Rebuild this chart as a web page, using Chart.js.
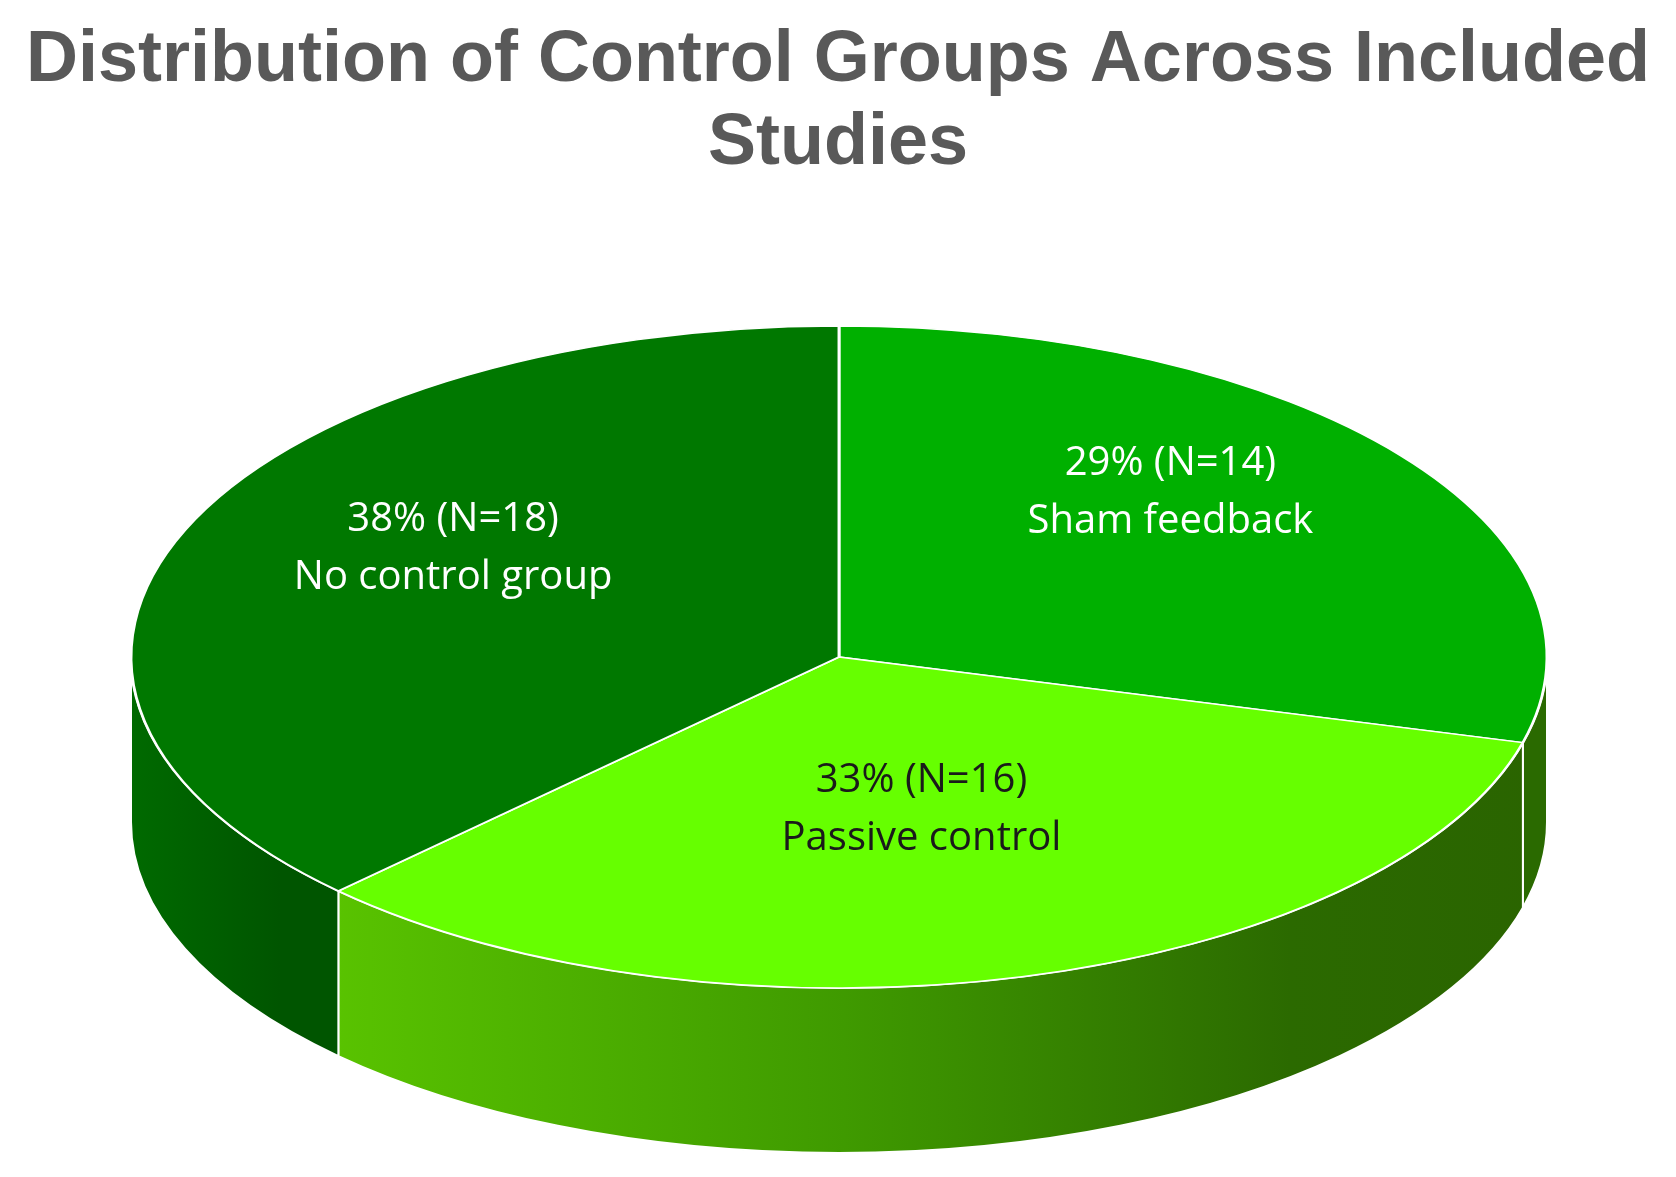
<!DOCTYPE html>
<html><head><meta charset="utf-8">
<script src="https://cdn.jsdelivr.net/npm/chart.js@4"></script>
<style>html,body{margin:0;padding:0;background:#fff}#wrap{width:1676px;height:1177px}</style>
</head><body><div id="wrap"><canvas id="c"></canvas></div>
<script>
const categories = ["Sham feedback", "Passive control", "No control group"];
const counts = [14, 16, 18];
const percents = ["29%", "33%", "38%"];
const topColors = ["#00b000", "#66ff00", "#007800"];
const textColors = ["#ffffff", "#1a1a1a", "#ffffff"];

const CX = 839, CY = 657, RX = 708, RY = 331, DEPTH = 165, LCY = 595;
const LFX = [0.59, 0.45, 0.59], LFY = [0.51, 0.67, 0.37];

function sideFill(ctx, i) {
  if (i === 1) {
    const g = ctx.createLinearGradient(270, 0, 1546, 0);
    g.addColorStop(0, "#5cc800"); g.addColorStop(0.45, "#3f9a00"); g.addColorStop(0.8, "#2b6a00"); g.addColorStop(1, "#2a6400");
    return g;
  }
  if (i === 2) {
    const g = ctx.createLinearGradient(130, 0, 280, 0);
    g.addColorStop(0, "#006a00"); g.addColorStop(1, "#005500");
    return g;
  }
  return "#2a6a00";
}

const pie3d = {
  id: 'pie3d',
  beforeDatasetsDraw(chart) {
    const ctx = chart.ctx;
    const meta = chart.getDatasetMeta(0);
    ctx.save();
    meta.data.forEach((arc, i) => {
      let s = Math.max(arc.startAngle, 0), e = Math.min(arc.endAngle, Math.PI);
      if (e <= s) return;
      ctx.beginPath();
      ctx.ellipse(CX, CY, RX, RY, 0, s, e);
      ctx.lineTo(CX + RX * Math.cos(e), CY + DEPTH + RY * Math.sin(e));
      ctx.ellipse(CX, CY + DEPTH, RX, RY, 0, e, s, true);
      ctx.closePath();
      ctx.fillStyle = sideFill(ctx, i);
      ctx.fill();
      ctx.strokeStyle = "#ffffff"; ctx.lineWidth = 2; ctx.stroke();
    });
    ctx.restore();
    const a0 = meta.data[0];
    const r0 = a0.outerRadius;
    ctx.save();
    ctx.translate(CX, CY);
    ctx.scale(RX / r0, RY / r0);
    ctx.translate(-a0.x, -a0.y);
  },
  afterDatasetsDraw(chart) {
    const ctx = chart.ctx;
    ctx.restore();
    const meta = chart.getDatasetMeta(0);
    ctx.save();
    ctx.font = "40px 'Open Sans', 'Liberation Sans', sans-serif";
    ctx.textAlign = "center"; ctx.textBaseline = "middle";
    meta.data.forEach((arc, i) => {
      const m = (arc.startAngle + arc.endAngle) / 2;
      const x = CX + LFX[i] * RX * Math.cos(m);
      const y = LCY + LFY[i] * RY * Math.sin(m);
      ctx.fillStyle = textColors[i];
      ctx.fillText(percents[i] + " (N=" + counts[i] + ")", x, y - 29);
      ctx.fillText(categories[i], x, y + 29);
    });
    ctx.restore();
  }
};

new Chart(document.getElementById('c'), {
  type: 'pie',
  data: { labels: categories, datasets: [{ data: counts, backgroundColor: topColors, borderColor: "#ffffff", borderWidth: 2 }] },
  options: {
    responsive: true, maintainAspectRatio: false, animation: false,
    layout: { padding: { top: 10 } },
    plugins: {
      legend: { display: false }, tooltip: { enabled: false },
      title: { display: true, text: ["Distribution of Control Groups Across Included", "Studies"],
        color: "#595959", font: { size: 72, weight: 'bold', family: "'Liberation Sans', Arial, sans-serif", lineHeight: 1.15 },
        padding: { top: 10, bottom: 20 } }
    }
  },
  plugins: [pie3d]
});
</script></body></html>
